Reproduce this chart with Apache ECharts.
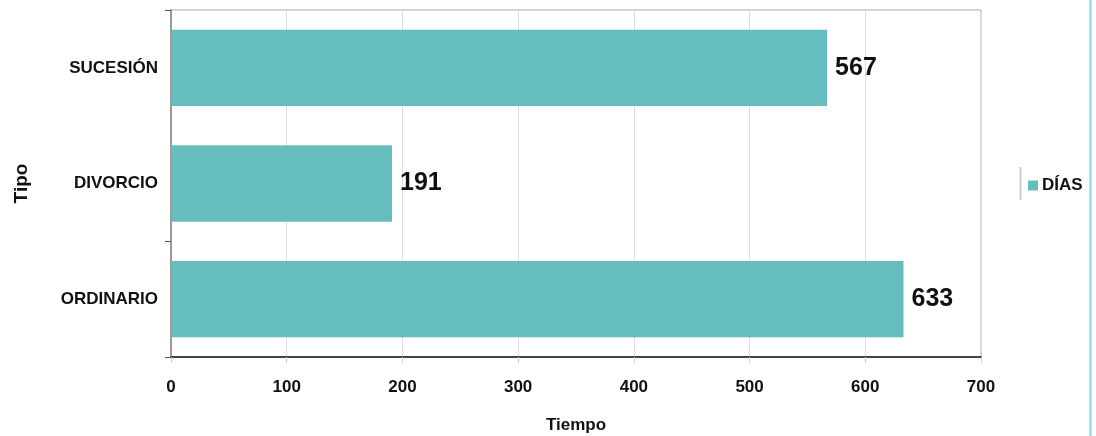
<!DOCTYPE html>
<html>
<head>
<meta charset="utf-8">
<script src="https://cdn.jsdelivr.net/npm/echarts@6/dist/echarts.min.js"></script>
<style>
html,body{margin:0;padding:0;background:#fff;}
#c{width:1096px;height:436px;}
</style>
</head>
<body>
<div id="c"></div>
<script>
const categories = ['ORDINARIO', 'DIVORCIO', 'SUCESIÓN'];
const dias = [633, 191, 567];
const xTicks = [0, 100, 200, 300, 400, 500, 600, 700];
const seriesName = 'DÍAS';

const FONT = '"Liberation Sans", Arial, sans-serif';
const chart = echarts.init(document.getElementById('c'), null, {renderer: 'canvas'});
chart.setOption({
  animation: false,
  textStyle: {fontFamily: FONT},
  grid: {left: 171, right: 115, top: 10, bottom: 79, show: true, borderColor: '#aaa', borderWidth: 1,
         containLabel: false, outerBoundsMode: 'none'},
  legend: {
    data: [seriesName], orient: 'vertical', left: 1023, top: 172,
    icon: 'rect', itemWidth: 10, itemHeight: 10, itemGap: 5,
    textStyle: {fontFamily: FONT, fontWeight: 'bold', fontSize: 17, color: '#111', padding: [0, 0, 0, -1]}
  },
  xAxis: {
    type: 'value', min: xTicks[0], max: xTicks[xTicks.length - 1], interval: 100,
    name: 'Tiempo', nameLocation: 'middle', nameGap: 60,
    nameTextStyle: {fontFamily: FONT, fontWeight: 'bold', fontSize: 17, color: '#111'},
    axisLine: {show: true, lineStyle: {color: '#444', width: 2}},
    axisTick: {show: true, length: 6, lineStyle: {color: '#ccc'}},
    axisLabel: {fontFamily: FONT, fontWeight: 'bold', fontSize: 17, color: '#111', margin: 22},
    splitLine: {show: true, lineStyle: {color: '#ddd'}}
  },
  yAxis: {
    type: 'category', data: categories,
    name: 'Tipo', nameLocation: 'middle', nameGap: 140, nameRotate: 90,
    nameTextStyle: {fontFamily: FONT, fontWeight: 'bold', fontSize: 19, color: '#111'},
    axisLine: {show: true, lineStyle: {color: '#999', width: 2}},
    axisTick: {show: true, length: 6, lineStyle: {color: '#555'}, interval: function (i) { return i <= 1; }},
    axisLabel: {fontFamily: FONT, fontWeight: 'bold', fontSize: 17, color: '#111', margin: 13}
  },
  series: [{
    name: seriesName, type: 'bar', data: dias, barCategoryGap: '34%',
    itemStyle: {color: '#66bdbd'},
    label: {show: true, position: 'right', distance: 8, fontFamily: FONT, fontWeight: 'bold', fontSize: 25, color: '#111'}
  }],
  graphic: [
    {type: 'line', shape: {x1: 1020.5, y1: 167, x2: 1020.5, y2: 200}, style: {stroke: '#ccc', lineWidth: 2}},
    {type: 'line', shape: {x1: 1090.5, y1: 0, x2: 1090.5, y2: 436}, style: {stroke: '#8fd0dc', lineWidth: 2}}
  ]
});
</script>
</body>
</html>
